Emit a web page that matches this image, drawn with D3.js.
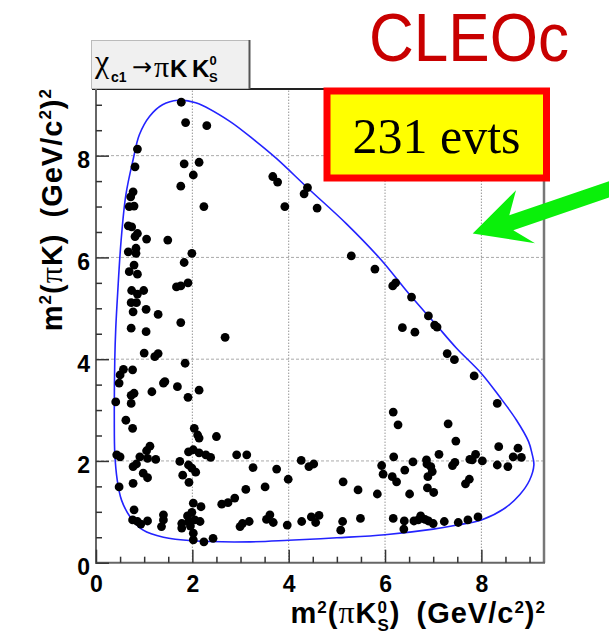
<!DOCTYPE html>
<html>
<head>
<meta charset="utf-8">
<script src="https://cdn.jsdelivr.net/npm/d3@7"></script>
<style>
  html, body { margin: 0; padding: 0; background: #fff; }
  svg { display: block; }
</style>
</head>
<body>
<svg id="chart" width="609" height="644"></svg>
<script>
// Dalitz plot of chi_c1 -> pi K K0S candidates (CLEO-c)

// axis ticks
const xTicks = [0, 2, 4, 6, 8];
const yTicks = [0, 2, 4, 6, 8];
const xMinor = d3.range(0.5, 9.3, 0.5);
const yMinor = d3.range(0.5, 9.3, 0.5);
const xMax = 9.3;
const yMax = 9.31;

const nEvents = 231;

// candidate events: [m2(pi K0S), m2(pi K)] in (GeV/c^2)^2
const events = [
  [1.77,9.05],[1.86,8.65],[2.30,8.59],[0.86,8.13],[0.81,7.78],[1.83,7.84],[2.14,7.87],[2.02,7.62],[1.76,7.40],[2.24,7.00],
  [0.77,7.29],[0.72,7.19],[0.69,7.00],[0.79,7.01],[0.67,6.62],[0.74,6.60],[0.81,6.41],[0.86,6.47],[1.05,6.36],[1.49,6.34],
  [0.67,6.11],[0.83,6.18],[0.83,6.08],[1.99,6.08],[1.83,5.90],[0.79,5.85],[0.69,5.72],[0.86,5.67],[1.91,5.50],[1.67,5.42],
  [1.76,5.44],[0.74,5.35],[0.86,5.28],[0.99,5.35],[0.73,5.11],[0.84,5.11],[0.77,4.93],[1.04,4.98],[1.29,4.88],[0.73,4.61],
  [1.04,4.54],[1.76,4.72],[2.68,4.43],[1.00,4.12],[1.22,4.05],[1.29,4.11],[1.85,3.92],[0.57,3.80],[0.50,3.69],[0.76,3.79],
  [0.48,3.53],[1.40,3.53],[1.43,3.56],[1.69,3.46],[2.14,3.39],[1.16,3.36],[0.79,3.33],[0.73,3.29],[0.73,3.13],[1.91,3.25],
  [0.41,3.16],[0.62,2.80],[0.76,2.64],[2.04,2.64],[2.11,2.51],[2.14,2.45],[2.50,2.48],[1.12,2.29],[1.05,2.20],[0.43,2.12],
  [0.50,2.08],[0.91,2.08],[1.07,2.05],[1.24,2.03],[1.92,2.18],[2.02,2.22],[2.14,2.16],[2.28,2.12],[2.38,2.07],[2.92,2.12],
  [3.13,2.12],[3.26,1.87],[3.75,1.84],[3.99,1.64],[4.26,2.01],[4.42,1.89],[4.52,1.94],[0.77,1.89],[0.84,1.94],[1.74,1.99],
  [1.92,1.92],[1.99,1.86],[0.98,1.76],[1.07,1.67],[1.80,1.72],[2.07,1.78],[1.93,1.58],[0.77,1.56],[0.48,1.49],[3.51,1.49],
  [3.11,1.44],[2.88,1.27],[2.74,1.18],[2.61,1.15],[2.02,1.17],[2.18,1.10],[0.79,1.04],[1.40,0.94],[1.40,0.84],[1.36,0.71],
  [1.99,0.99],[1.90,0.92],[0.76,0.84],[0.86,0.81],[0.93,0.76],[1.07,0.82],[1.78,0.77],[1.78,0.68],[1.92,0.81],[2.05,0.84],
  [2.16,0.81],[1.96,0.72],[2.99,0.71],[3.04,0.77],[3.18,0.81],[3.54,0.85],[3.61,0.94],[3.68,0.79],[3.97,0.74],[2.02,0.58],
  [2.02,0.45],[2.24,0.41],[2.43,0.48],[4.27,0.81],[4.47,0.90],[4.56,0.79],[4.63,0.93],[5.12,0.81],[5.08,0.64],[5.49,0.87],
  [5.13,1.59],[5.44,1.43],[5.84,1.35],[5.93,1.91],[5.96,1.74],[6.17,2.96],[6.27,2.71],[6.18,2.08],[6.15,1.69],[6.24,1.59],
  [6.17,0.87],[6.41,1.82],[6.58,1.98],[6.51,1.35],[6.86,2.02],[6.87,1.94],[6.95,1.89],[6.98,1.79],[6.89,1.69],[6.88,1.47],
  [7.01,1.38],[7.12,2.13],[7.31,2.73],[7.47,2.39],[7.40,1.91],[7.45,1.97],[7.67,1.55],[7.75,1.64],[7.76,2.03],[7.81,2.02],
  [7.88,2.13],[8.02,2.00],[8.33,1.92],[8.36,2.28],[8.55,1.89],[8.66,2.08],[8.76,2.25],[8.83,2.07],[8.33,3.13],[6.40,0.82],
  [6.39,0.66],[6.60,0.82],[6.69,0.84],[6.74,0.92],[6.83,0.85],[6.90,0.82],[7.00,0.77],[7.23,0.81],[7.52,0.79],[7.72,0.84],
  [7.93,0.90],[3.67,7.59],[3.77,7.48],[3.92,7.00],[4.32,7.25],[4.39,7.37],[4.59,6.97],[5.30,6.03],[5.79,5.77],[6.16,5.44],
  [6.22,5.50],[6.55,5.22],[6.90,4.85],[7.03,4.67],[7.08,4.63],[6.36,4.62],[6.62,4.53],[7.29,4.11],[7.44,3.99],[7.85,3.67]
];

// kinematic boundary of the Dalitz plot
const boundary = [
  [1.40,0.50],[2.00,0.43],[3.20,0.41],[4.00,0.44],[5.00,0.49],[6.00,0.55],[7.00,0.66],[7.50,0.74],[8.00,0.84],
  [8.50,1.08],[8.80,1.34],[9.00,1.62],[9.09,1.92],[9.05,2.15],[8.98,2.38],[8.73,2.80],[8.38,3.26],[8.00,3.72],
  [7.48,4.22],[7.03,4.71],[6.50,5.28],[5.93,5.94],[5.20,6.66],[4.40,7.36],[3.75,7.94],[3.32,8.28],[2.77,8.68],
  [2.07,9.04],[1.70,9.09],[1.38,9.00],[1.11,8.77],[0.90,8.41],[0.77,7.92],[0.62,7.23],[0.52,6.32],[0.45,5.30],
  [0.41,4.60],[0.39,4.00],[0.38,2.80],[0.39,2.15],[0.44,1.63],[0.53,1.23],[0.71,0.90],[0.98,0.64]
];

// arrow tip (annotation), in plot units
const arrowTip = [7.82, 6.47];

const svg = d3.select("#chart");
const frame = { left: 96, right: 544, top: 89, bottom: 562.7 };

const x = d3.scaleLinear().domain([0, xMax]).range([frame.left, frame.right]);
const y = d3.scaleLinear().domain([0, yMax]).range([frame.bottom, frame.top]);

const sans = "'Liberation Sans', Arial, Helvetica, sans-serif";
const serif = "'Liberation Serif', 'Times New Roman', serif";

// grid
const grid = svg.append("g");
grid.selectAll("line.gx").data(xTicks.filter(d => d > 0)).join("line")
  .attr("x1", d => x(d)).attr("x2", d => x(d))
  .attr("y1", frame.bottom).attr("y2", frame.top)
  .attr("stroke", "#666").attr("stroke-width", 1).attr("stroke-dasharray", "1,2");
grid.selectAll("line.gy").data(yTicks.filter(d => d > 0)).join("line")
  .attr("x1", frame.left).attr("x2", frame.right)
  .attr("y1", d => y(d)).attr("y2", d => y(d))
  .attr("stroke", "#aaa").attr("stroke-width", 1).attr("stroke-dasharray", "3,2");

// frame
svg.append("line").attr("x1", frame.left - 4).attr("x2", frame.right).attr("y1", frame.top).attr("y2", frame.top)
  .attr("stroke", "#222").attr("stroke-width", 2);
svg.append("line").attr("x1", frame.right).attr("x2", frame.right).attr("y1", frame.top).attr("y2", frame.bottom)
  .attr("stroke", "#777").attr("stroke-width", 2.5);
svg.append("line").attr("x1", frame.left).attr("x2", frame.left).attr("y1", frame.top).attr("y2", frame.bottom + 1)
  .attr("stroke", "#666").attr("stroke-width", 2);
svg.append("line").attr("x1", frame.left - 1).attr("x2", frame.right + 1).attr("y1", frame.bottom).attr("y2", frame.bottom)
  .attr("stroke", "#666").attr("stroke-width", 2);

// axes (ticks pointing into the frame)
function styleAxis(g) {
  g.select(".domain").remove();
  g.selectAll(".tick line").attr("stroke", "#333").attr("stroke-width", 1.5);
  g.selectAll(".tick text").attr("font-family", sans).attr("font-weight", "bold")
    .attr("font-size", 23).attr("fill", "#000");
}
const yAxis = svg.append("g").attr("transform", `translate(${frame.left},0)`)
  .call(d3.axisLeft(y).tickValues(yTicks).tickSize(-13).tickPadding(6).tickFormat(d3.format("d")));
styleAxis(yAxis);
yAxis.selectAll(".tick text").attr("dy", "12px");
const yAxisMinor = svg.append("g").attr("transform", `translate(${frame.left},0)`)
  .call(d3.axisLeft(y).tickValues(yMinor.filter(v => v % 2 !== 0)).tickSize(-6).tickFormat(""));
styleAxis(yAxisMinor);

const xAxis = svg.append("g").attr("transform", `translate(0,${frame.bottom})`)
  .call(d3.axisBottom(x).tickValues(xTicks).tickSize(-13).tickPadding(13).tickFormat(d3.format("d")));
styleAxis(xAxis);
const xAxisMinor = svg.append("g").attr("transform", `translate(0,${frame.bottom})`)
  .call(d3.axisBottom(x).tickValues(xMinor.filter(v => v % 2 !== 0)).tickSize(-6).tickFormat(""));
styleAxis(xAxisMinor);

// rich text with superscripts / subscripts
function rich(parent, parts, base) {
  const t = parent.append("text")
    .attr("font-family", sans).attr("font-weight", "bold")
    .attr("font-size", base).attr("fill", "#000")
    .attr("letter-spacing", 1);
  let shift = 0, prevW = 0;
  parts.forEach(p => {
    const target = p.shift || 0;
    const ts = t.append("tspan").text(p.t).attr("dy", target - shift);
    if (p.size) ts.attr("font-size", p.size);
    if (p.family) ts.attr("font-family", p.family);
    if (p.weight) ts.attr("font-weight", p.weight);
    let dx = p.dx || 0;
    if (p.back) dx -= prevW;
    if (dx) ts.attr("dx", dx);
    shift = target;
    prevW = ts.node().getComputedTextLength();
  });
  return t;
}

const tSize = 29, sSize = 17;
// x title
rich(svg, [
  { t: "m" }, { t: "2", size: sSize, shift: -10 }, { t: "(" },
  { t: "π", family: serif, weight: "normal", size: 32 }, { t: "K" },
  { t: "0", size: sSize, shift: -10 }, { t: "S", size: sSize, shift: 8, back: true },
  { t: ")" }, { t: "(GeV/c", dx: 16 }, { t: "2", size: sSize, shift: -10 },
  { t: ")" }, { t: "2", size: sSize, shift: -10 }
], tSize).attr("text-anchor", "end").attr("x", frame.right + 2).attr("y", 623);

// y title
rich(svg.append("g").attr("transform", `translate(62,${frame.top - 1}) rotate(-90)`), [
  { t: "m" }, { t: "2", size: sSize, shift: -11 }, { t: "(" },
  { t: "π", family: serif, weight: "normal", size: 32 }, { t: "K" }, { t: ")" },
  { t: "(GeV/c", dx: 16 }, { t: "2", size: sSize, shift: -11 },
  { t: ")" }, { t: "2", size: sSize, shift: -11 }
], tSize).attr("text-anchor", "end").attr("x", 0).attr("y", 0);

// kinematic boundary
svg.append("path")
  .datum(boundary)
  .attr("d", d3.line().x(d => x(d[0])).y(d => y(d[1])).curve(d3.curveCatmullRomClosed.alpha(0.5)))
  .attr("fill", "none").attr("stroke", "#2323ff").attr("stroke-width", 1.6);

// events
svg.append("g").selectAll("circle").data(events).join("circle")
  .attr("cx", d => x(d[0])).attr("cy", d => y(d[1])).attr("r", 4.4).attr("fill", "#000");

// histogram title box
const tb = svg.append("g");
tb.append("rect").attr("x", 91.5).attr("y", 40.5).attr("width", 158).attr("height", 48)
  .attr("fill", "#f0f0f0").attr("stroke", "#bbb").attr("stroke-width", 1);
tb.append("line").attr("x1", 249.5).attr("x2", 249.5).attr("y1", 40).attr("y2", 89)
  .attr("stroke", "#555").attr("stroke-width", 2);
const tt = tb.append("text").attr("fill", "#000");
tt.append("tspan").attr("x", 95).attr("y", 72).attr("font-family", serif).attr("font-size", 32).text("χ");
tt.append("tspan").attr("x", 111).attr("y", 82).attr("font-family", sans).attr("font-weight", "bold").attr("font-size", 14).text("c1");
tt.append("tspan").attr("x", 132).attr("y", 75).attr("font-family", "'DejaVu Sans', sans-serif").attr("font-size", 24).text("→");
tt.append("tspan").attr("x", 154).attr("y", 77).attr("font-family", serif).attr("font-size", 30).text("π");
tt.append("tspan").attr("x", 170).attr("y", 77).attr("font-family", sans).attr("font-weight", "bold").attr("font-size", 24).text("K");
tt.append("tspan").attr("x", 192).attr("y", 77).attr("font-family", sans).attr("font-weight", "bold").attr("font-size", 24).text("K");
tt.append("tspan").attr("x", 209.5).attr("y", 65).attr("font-family", sans).attr("font-weight", "bold").attr("font-size", 13).text("0");
tt.append("tspan").attr("x", 209).attr("y", 82).attr("font-family", sans).attr("font-weight", "bold").attr("font-size", 13).text("S");

// event count box
svg.append("rect").attr("x", 327).attr("y", 91).attr("width", 219.5).attr("height", 87)
  .attr("fill", "#ffff00").attr("stroke", "#ff0000").attr("stroke-width", 7);
svg.append("text").attr("x", 436.5).attr("y", 153).attr("text-anchor", "middle")
  .attr("font-family", serif).attr("font-size", 50).attr("fill", "#000")
  .text(`${nEvents} evts`);

// green arrow pointing into the plot
const ax = x(arrowTip[0]), ay = y(arrowTip[1]);
const arrowShape = [[0,0],[43.3,-43.3],[36.6,-18.3],[140,-53.6],[140,-37.3],[40.6,-3.3],[62.3,9.7]];
svg.append("path")
  .attr("d", "M" + arrowShape.map(p => [ax + p[0], ay + p[1]].join(",")).join("L") + "Z")
  .attr("fill", "#0af00a");

// experiment label
svg.append("text").attr("x", 369).attr("y", 61)
  .attr("font-family", "'Liberation Sans Narrow', 'Liberation Sans', Arial, sans-serif")
  .attr("font-size", 68).attr("fill", "#c80000")
  .attr("textLength", 200).attr("lengthAdjust", "spacingAndGlyphs")
  .text("CLEOc");
</script>
</body>
</html>
